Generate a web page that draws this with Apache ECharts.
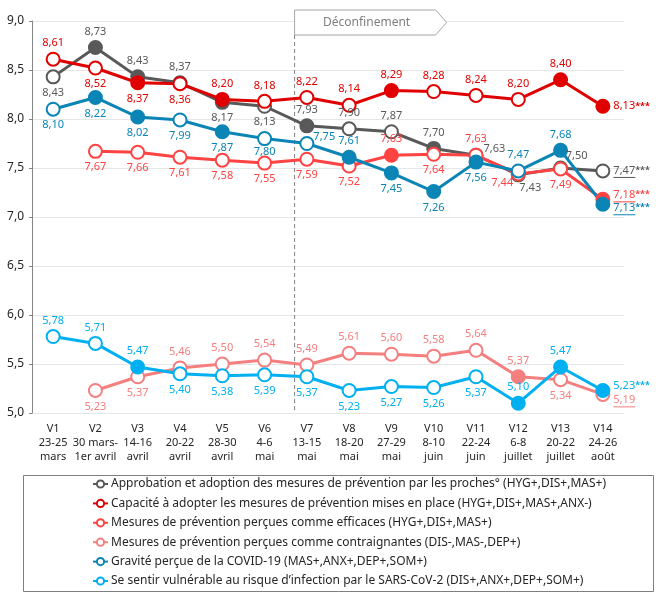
<!DOCTYPE html>
<html style="height: 100%">
<head>
    <meta charset="utf-8">
</head>
<body style="height: 100%; margin: 0">
<div id="container" style="width: 663px; height: 600px"></div>
<script type="text/javascript" src="https://cdn.jsdelivr.net/npm/echarts@6/dist/echarts.min.js"></script>
<script type="text/javascript">
    // vagues d'enquête
    var vagues = ['V1', 'V2', 'V3', 'V4', 'V5', 'V6', 'V7', 'V8', 'V9', 'V10', 'V11', 'V12', 'V13', 'V14'];
    var dates = ['23-25\nmars', '30 mars-\n1er avril', '14-16\navril', '20-22\navril', '28-30\navril', '4-6\nmai',
        '13-15\nmai', '18-20\nmai', '27-29\nmai', '8-10\njuin', '22-24\njuin', '6-8\njuillet', '20-22\njuillet', '24-26\naoût'];

    var approbation = [8.43, 8.73, 8.43, 8.37, 8.17, 8.13, 7.93, 7.90, 7.87, 7.70, 7.63, 7.43, 7.50, 7.47];
    var capacite = [8.61, 8.52, 8.37, 8.36, 8.20, 8.18, 8.22, 8.14, 8.29, 8.28, 8.24, 8.20, 8.40, 8.13];
    var efficaces = [null, 7.67, 7.66, 7.61, 7.58, 7.55, 7.59, 7.52, 7.63, 7.64, 7.63, 7.44, 7.49, 7.18];
    var contraignantes = [null, 5.23, 5.37, 5.46, 5.50, 5.54, 5.49, 5.61, 5.60, 5.58, 5.64, 5.37, 5.34, 5.19];
    var gravite = [8.10, 8.22, 8.02, 7.99, 7.87, 7.80, 7.75, 7.61, 7.45, 7.26, 7.56, 7.47, 7.68, 7.13];
    var vulnerable = [5.78, 5.71, 5.47, 5.40, 5.38, 5.39, 5.37, 5.23, 5.27, 5.26, 5.37, 5.10, 5.47, 5.23];

    var yMin = 5, yMax = 9, yStep = 0.5;
    var FONT = 'Noto Sans';

    var dom = document.getElementById("container");
    var myChart = echarts.init(dom);

    // points pleins = évolution significative
    var lignes = [
        {
            name: 'Approbation et adoption des mesures de prévention par les proches° (HYG+,DIS+,MAS+)',
            values: approbation, color: '#595959', filled: [1, 2, 4, 6, 9, 11],
            pos: 'btttbbttttrbtr', offs: {10: [-3, -6], 11: [12, -3], 12: [16, 4]},
            stars: '***', underline: true
        },
        {
            name: 'Capacité à adopter les mesures de prévention mises en place (HYG+,DIS+,MAS+,ANX-)',
            values: capacite, color: '#E00000', filled: [2, 4, 8, 12, 13],
            pos: 'tbbbtttttttttr', offs: {},
            stars: '***', underline: false
        },
        {
            name: 'Mesures de prévention perçues comme efficaces (HYG+,DIS+,MAS+)',
            values: efficaces, color: '#FF4343', filled: [8, 13],
            pos: 'bbbbbbbbtbtbbr', offs: {11: [-16, -7], 13: [0, -4]},
            stars: '***', underline: true
        },
        {
            name: 'Mesures de prévention perçues comme contraignantes (DIS-,MAS-,DEP+)',
            values: contraignantes, color: '#F47F7F', filled: [11],
            pos: 'bbbtttttttttbr', offs: {13: [0, 6]},
            stars: '', underline: true
        },
        {
            name: 'Gravité perçue de la COVID-19 (MAS+,ANX+,DEP+,SOM+)',
            values: gravite, color: '#0A85B5', filled: [1, 2, 4, 7, 8, 9, 10, 12, 13],
            pos: 'bbbbbbrtbbbttr', offs: {5: [0, -3], 6: [-4, -7], 13: [0, 4]},
            stars: '***', underline: true
        },
        {
            name: 'Se sentir vulnérable au risque d\u2019infection par le SARS-CoV-2 (DIS+,ANX+,DEP+,SOM+)',
            values: vulnerable, color: '#00B0F0', filled: [2, 11, 12, 13],
            pos: 'tttbbbbbbbbttr', offs: {13: [0, -5]},
            stars: '***', underline: false
        }
    ];

    var posMap = {t: 'top', b: 'bottom', r: 'right', l: 'left'};

    function fmt(v) {
        return v.toFixed(2).replace('.', ',');
    }

    function buildData(l) {
        var last = l.values.length - 1;
        return l.values.map(function (v, i) {
            if (v == null) return '-';
            var item = {value: v, label: {position: posMap[l.pos[i]]}};
            if (l.filled.indexOf(i) >= 0) item.itemStyle = {color: l.color};
            if (l.offs[i]) item.label.offset = l.offs[i];
            if (i === last) {
                var txt = '{v|' + fmt(v) + '}' + (l.stars ? '{s|' + l.stars + '}' : '');
                if (l.underline) txt += '\n{u|}';
                item.label.formatter = txt;
                item.label.rich = {
                    v: {color: l.color, fontSize: 11, fontFamily: FONT, lineHeight: 13},
                    s: {color: l.color, fontSize: 9, fontFamily: FONT, fontWeight: 'bold', lineHeight: 13},
                    u: {width: 22, height: 1, lineHeight: 1, backgroundColor: l.color}
                };
            }
            return item;
        });
    }

    var option = {
        animation: false,
        textStyle: {fontFamily: FONT},
        grid: {left: 32, right: 39, top: 21, bottom: 187, containLabel: false},
        legend: {
            orient: 'vertical',
            left: 92,
            top: 477,
            itemWidth: 15,
            itemHeight: 9,
            itemGap: 5.4,
            padding: 0,
            textStyle: {fontSize: 12, lineHeight: 14, color: '#262626', fontFamily: FONT, padding: [0, 0, 0, -2]},
            data: lignes.map(function (l) { return l.name; })
        },
        xAxis: {
            type: 'category',
            data: vagues.map(function (v, i) { return v + '\n' + dates[i]; }),
            axisLine: {show: false},
            axisTick: {show: false},
            axisLabel: {interval: 0, fontSize: 11, lineHeight: 14, color: '#262626', margin: 9}
        },
        yAxis: {
            type: 'value',
            min: yMin,
            max: yMax,
            interval: yStep,
            axisLine: {show: true, lineStyle: {color: '#868686'}},
            axisTick: {show: true, length: 3, lineStyle: {color: '#868686'}},
            splitLine: {lineStyle: {color: '#e6e6e6'}},
            axisLabel: {
                fontSize: 12, color: '#262626', margin: 8,
                formatter: function (v) { return v.toFixed(1).replace('.', ','); }
            }
        },
        series: lignes.map(function (l) {
            return {
                type: 'line',
                name: l.name,
                data: buildData(l),
                symbol: 'circle',
                symbolSize: 13,
                lineStyle: {color: l.color, width: 3},
                itemStyle: {color: '#ffffff', borderColor: l.color, borderWidth: 2},
                label: {
                    show: true, color: l.color, fontSize: 11, fontFamily: FONT, distance: 3,
                    formatter: function (p) { return fmt(p.value); }
                },
                emphasis: {disabled: true}
            };
        })
    };

    myChart.setOption(option);

    // ligne du déconfinement, entre V6 et V7
    var x6 = myChart.convertToPixel({xAxisIndex: 0}, 5);
    var x7 = myChart.convertToPixel({xAxisIndex: 0}, 6);
    var xd = x6 + (x7 - x6) * 0.71;
    var yBas = myChart.convertToPixel({yAxisIndex: 0}, yMin);

    myChart.setOption({
        graphic: [
            {
                type: 'line', z: 1,
                shape: {x1: xd, y1: 35, x2: xd, y2: yBas},
                style: {stroke: '#7f7f7f', lineWidth: 1, lineDash: [4, 3]}
            },
            {
                type: 'polygon', z: 5,
                shape: {points: [[xd, 10], [xd + 141, 10], [xd + 152, 22.5], [xd + 141, 35], [xd, 35]]},
                style: {fill: '#ffffff', stroke: '#a6a6a6', lineWidth: 1}
            },
            {
                type: 'text', z: 6,
                x: xd + 72, y: 22.5,
                style: {
                    text: 'Déconfinement', fill: '#7f7f7f', font: '12px "Noto Sans"',
                    align: 'center', verticalAlign: 'middle'
                }
            },
            {
                type: 'rect', z: 0,
                shape: {x: 23.5, y: 475.5, width: 630, height: 116},
                style: {fill: 'none', stroke: '#7f7f7f', lineWidth: 1}
            }
        ]
    });
</script>
</body>
</html>
